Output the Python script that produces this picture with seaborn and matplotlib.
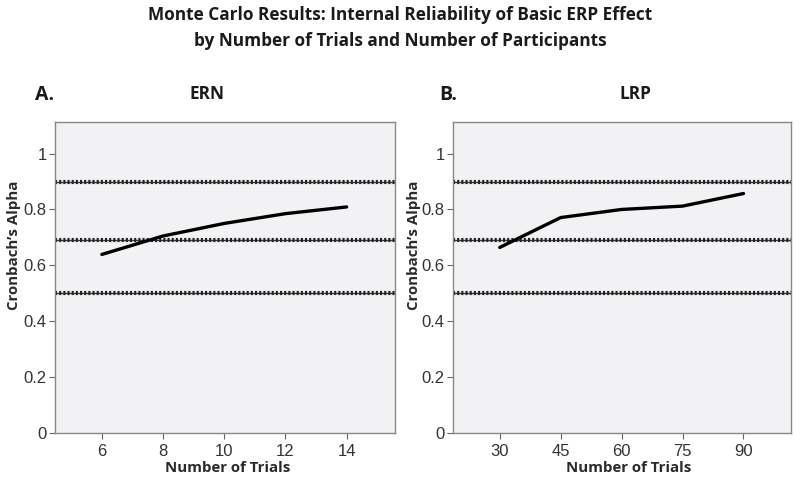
import numpy as np
import pandas as pd
import seaborn as sns
import matplotlib
matplotlib.use("Agg")
import matplotlib.pyplot as plt

# values
ern_trials = [6, 8, 10, 12, 14]
ern_alpha = [0.639, 0.705, 0.750, 0.785, 0.809]
lrp_trials = [30, 45, 60, 75, 90]
lrp_alpha = [0.664, 0.771, 0.800, 0.812, 0.857]
ref_lines = [0.9, 0.69, 0.5]
y_ticks = [0, 0.2, 0.4, 0.6, 0.8, 1]
y_tick_labels = ["0", "0.2", "0.4", "0.6", "0.8", "1"]

sns.set_theme(style="white")
plt.rcParams["font.family"] = ["Liberation Sans", "DejaVu Sans"]

label_font = dict(family=["Open Sans", "DejaVu Sans"], fontweight="bold")

fig = plt.figure(figsize=(8, 4.8), dpi=100)

fig.text(0.5, 1 - 15 / 480, "Monte Carlo Results: Internal Reliability of Basic ERP Effect",
         ha="center", va="center", fontsize=12.4, color="#1a1a1a", **label_font)
fig.text(0.5, 1 - 41 / 480, "by Number of Trials and Number of Participants",
         ha="center", va="center", fontsize=12.4, color="#1a1a1a", **label_font)

panels = [
    dict(rect=[55 / 800, 47 / 480, 340 / 800, 311 / 480],
         df=pd.DataFrame({"trials": ern_trials, "alpha": ern_alpha}),
         xlim=(4.47, 15.58), xticks=[6, 8, 10, 12, 14],
         letter="A.", letter_x=35 / 800, name="ERN", name_x=207 / 800,
         xlabel_x=228 / 800, ylabel_x=14 / 800),
    dict(rect=[453 / 800, 47 / 480, 338 / 800, 311 / 480],
         df=pd.DataFrame({"trials": lrp_trials, "alpha": lrp_alpha}),
         xlim=(18.5, 101.7), xticks=[30, 45, 60, 75, 90],
         letter="B.", letter_x=439 / 800, name="LRP", name_x=635 / 800,
         xlabel_x=629 / 800, ylabel_x=414 / 800),
]

for p in panels:
    ax = fig.add_axes(p["rect"])
    ax.set_facecolor("#f2f2f4")
    for y in ref_lines:
        ax.axhline(y, color="#3a3a3a", lw=1.0, zorder=2)
        ax.axhline(y, color="#222222", lw=3.0, linestyle=(0, (0.5, 0.5)), zorder=2)
    sns.lineplot(data=p["df"], x="trials", y="alpha", ax=ax, color="black", lw=2.4, zorder=3)
    ax.set_xlim(*p["xlim"])
    ax.set_ylim(0, 1.113)
    ax.set_xticks(p["xticks"])
    ax.set_yticks(y_ticks)
    ax.set_yticklabels(y_tick_labels)
    ax.tick_params(axis="y", left=True, length=4, width=0.8, color="#666666",
                   labelsize=12, labelcolor="#333333", pad=2)
    ax.tick_params(axis="x", bottom=True, length=4, width=0.8, color="#666666",
                   labelsize=12, labelcolor="#333333", pad=4)
    for s in ax.spines.values():
        s.set_color("#888888")
        s.set_linewidth(1.0)
    ax.set_xlabel("")
    ax.set_ylabel("")
    fig.text(p["xlabel_x"], 1 - 468 / 480, "Number of Trials", ha="center", va="center",
             fontsize=10.8, color="#2a2a2a", **label_font)
    fig.text(p["ylabel_x"], 1 - 245 / 480, "Cronbach’s Alpha", ha="center", va="center",
             rotation=90, fontsize=10.8, color="#2a2a2a", **label_font)
    fig.text(p["letter_x"], 1 - 95 / 480, p["letter"], ha="left", va="center",
             fontsize=14, color="#1a1a1a", **label_font)
    fig.text(p["name_x"], 1 - 94 / 480, p["name"], ha="center", va="center",
             fontsize=12.5, color="#1a1a1a", **label_font)

fig.savefig("out.png", dpi=100, facecolor="white")
